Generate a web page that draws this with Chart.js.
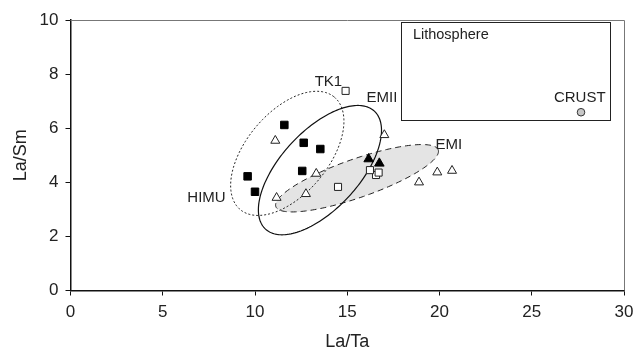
<!DOCTYPE html>
<html>
<head>
<meta charset="utf-8">
<script src="https://cdn.jsdelivr.net/npm/chart.js@4.4.1/dist/chart.umd.min.js"></script>
<style>
html,body{margin:0;padding:0;background:#fff;}
#wrap{width:635px;height:351px;}
</style>
</head>
<body>
<div id="wrap"><canvas id="c" width="635" height="351"></canvas></div>
<script>
// ---- data ----
const xTicks = [0, 5, 10, 15, 20, 25, 30];
const yTicks = [0, 2, 4, 6, 8, 10];

const filledSquareX = [11.59, 12.64, 13.54, 12.56, 9.60, 10.00];
const filledSquareY = [6.12, 5.46, 5.23, 4.42, 4.22, 3.65];

const openSquareX = [16.56, 14.91, 14.50, 16.23, 16.70];
const openSquareY = [4.27, 7.38, 3.83, 4.45, 4.36];

const openTriangleX = [11.10, 13.32, 11.17, 12.76, 17.01, 18.89, 19.88, 20.68];
const openTriangleY = [5.54, 4.32, 3.43, 3.57, 5.75, 4.00, 4.37, 4.43];

const filledTriangleX = [16.16, 16.74];
const filledTriangleY = [4.86, 4.70];

const crustX = [27.67];
const crustY = [6.59];

// field ellipses in data units: centre, and two conjugate semi-axis vectors
const ellipseNames = ['EMI', 'TK1', 'EMII'];
const ellipseCenterX = [15.53, 11.75, 13.52];
const ellipseCenterY = [4.15, 5.07, 4.45];
const ellipseAxisA = [[4.40, 1.05], [2.55, 2.08], [2.95, 2.18]];
const ellipseAxisB = [[0.36, -0.67], [1.71, -0.97], [1.56, -0.98]];

// text labels (data coordinates)
const labelText = ['TK1', 'EMII', 'EMI', 'HIMU', 'CRUST'];
const labelX = [13.98, 16.88, 20.50, 7.37, 27.60];
const labelY = [7.72, 7.14, 5.38, 3.41, 7.12];

// lithosphere box (data coordinates)
const boxX = [17.9, 29.24];
const boxY = [6.30, 9.94];
const boxTitle = 'Lithosphere';
const boxTitleX = 18.56, boxTitleY = 9.44;

const pts = (xs, ys) => xs.map((x, i) => ({x: x, y: ys[i]}));

const ellipseStyles = [
  {dash: [6, 4], width: 1, stroke: '#222', fill: '#e4e4e4'},
  {dash: [2, 2], width: 1, stroke: '#222', fill: null},
  {dash: [], width: 1.2, stroke: '#111', fill: null}
];

const overlayPlugin = {
  id: 'overlay',
  beforeDatasetsDraw(chart) {
    const ctx = chart.ctx, xs = chart.scales.x, ys = chart.scales.y;
    ctx.save();
    for (let i = 0; i < ellipseNames.length; i++) {
      const cx = xs.getPixelForValue(ellipseCenterX[i]);
      const cy = ys.getPixelForValue(ellipseCenterY[i]);
      const ax = xs.getPixelForValue(ellipseCenterX[i] + ellipseAxisA[i][0]) - cx;
      const ay = ys.getPixelForValue(ellipseCenterY[i] + ellipseAxisA[i][1]) - cy;
      const bx = xs.getPixelForValue(ellipseCenterX[i] + ellipseAxisB[i][0]) - cx;
      const by = ys.getPixelForValue(ellipseCenterY[i] + ellipseAxisB[i][1]) - cy;
      ctx.beginPath();
      for (let k = 0; k <= 180; k++) {
        const t = k / 180 * Math.PI * 2;
        const px = cx + ax * Math.cos(t) + bx * Math.sin(t);
        const py = cy + ay * Math.cos(t) + by * Math.sin(t);
        if (k === 0) ctx.moveTo(px, py); else ctx.lineTo(px, py);
      }
      ctx.closePath();
      const st = ellipseStyles[i];
      if (st.fill) { ctx.fillStyle = st.fill; ctx.fill(); }
      ctx.setLineDash(st.dash);
      ctx.lineWidth = st.width;
      ctx.strokeStyle = st.stroke;
      ctx.stroke();
    }
    ctx.setLineDash([]);
    // lithosphere box
    const x0 = xs.getPixelForValue(boxX[0]), x1 = xs.getPixelForValue(boxX[1]);
    const y0 = ys.getPixelForValue(boxY[1]), y1 = ys.getPixelForValue(boxY[0]);
    ctx.lineWidth = 1;
    ctx.strokeStyle = '#222';
    ctx.strokeRect(Math.round(x0) + 0.5, Math.round(y0) + 0.5, Math.round(x1 - x0), Math.round(y1 - y0));
    ctx.fillStyle = '#222';
    ctx.font = '14.5px "Liberation Sans", Arial, sans-serif';
    ctx.textAlign = 'left';
    ctx.textBaseline = 'middle';
    ctx.fillText(boxTitle, xs.getPixelForValue(boxTitleX), ys.getPixelForValue(boxTitleY));
    // labels
    ctx.font = '15px "Liberation Sans", Arial, sans-serif';
    ctx.textAlign = 'center';
    for (let i = 0; i < labelText.length; i++) {
      ctx.fillText(labelText[i], xs.getPixelForValue(labelX[i]), ys.getPixelForValue(labelY[i]));
    }
    ctx.restore();
  },
  afterDraw(chart) {
    const ctx = chart.ctx, a = chart.chartArea;
    ctx.save();
    ctx.strokeStyle = '#777';
    ctx.lineWidth = 1;
    ctx.beginPath();
    ctx.moveTo(a.left, Math.round(a.top) + 0.5);
    ctx.lineTo(Math.round(a.right) + 0.5, Math.round(a.top) + 0.5);
    ctx.lineTo(Math.round(a.right) + 0.5, a.bottom);
    ctx.stroke();
    ctx.restore();
  }
};

const tickFont = {family: '"Liberation Sans", Arial, sans-serif', size: 17};
const titleFont = {family: '"Liberation Sans", Arial, sans-serif', size: 18};

new Chart(document.getElementById('c'), {
  type: 'scatter',
  data: {
    datasets: [
      {label: 'open squares', data: pts(openSquareX, openSquareY), pointStyle: 'rect', pointRadius: 5,
       backgroundColor: '#fff', borderColor: '#222', borderWidth: 1},
      {label: 'filled squares', data: pts(filledSquareX, filledSquareY), pointStyle: 'rect', pointRadius: 5.3,
       backgroundColor: '#000', borderColor: '#000', borderWidth: 1},
      {label: 'open triangles', data: pts(openTriangleX, openTriangleY), pointStyle: 'triangle', pointRadius: 5.2,
       backgroundColor: '#fff', borderColor: '#222', borderWidth: 1},
      {label: 'filled triangles', data: pts(filledTriangleX, filledTriangleY), pointStyle: 'triangle', pointRadius: 5.5,
       backgroundColor: '#000', borderColor: '#000', borderWidth: 1},
      {label: 'crust', data: pts(crustX, crustY), pointStyle: 'circle', pointRadius: 3.8,
       backgroundColor: '#c8c8c8', borderColor: '#333', borderWidth: 1}
    ]
  },
  options: {
    responsive: false,
    animation: false,
    layout: {padding: {top: 20, right: 11, left: 0, bottom: -2}},
    plugins: {legend: {display: false}, tooltip: {enabled: false}},
    scales: {
      x: {
        type: 'linear', min: 0, max: 30,
        afterBuildTicks: s => { s.ticks = xTicks.map(v => ({value: v})); },
        afterFit: s => { s.height = 62.5; s.paddingLeft = 0; s.paddingRight = 0; },
        grid: {display: true, drawOnChartArea: false, drawTicks: true, tickLength: 5, color: '#111'},
        border: {display: true, color: '#111', width: 1.5},
        ticks: {color: '#222', font: tickFont, padding: 7, maxRotation: 0},
        title: {display: true, text: 'La/Ta', color: '#222', font: titleFont, padding: {top: 6, bottom: 0}}
      },
      y: {
        type: 'linear', min: 0, max: 10,
        afterBuildTicks: s => { s.ticks = yTicks.map(v => ({value: v})); },
        afterFit: s => { s.width = 70.5; s.paddingTop = 0; s.paddingBottom = 0; },
        grid: {display: true, drawOnChartArea: false, drawTicks: true, tickLength: 5, color: '#111'},
        border: {display: true, color: '#111', width: 1.5},
        ticks: {color: '#222', font: tickFont, padding: 7},
        title: {display: true, text: 'La/Sm', color: '#222', font: titleFont, padding: {top: 10, bottom: 14}}
      }
    }
  },
  plugins: [overlayPlugin]
});
</script>
</body>
</html>
